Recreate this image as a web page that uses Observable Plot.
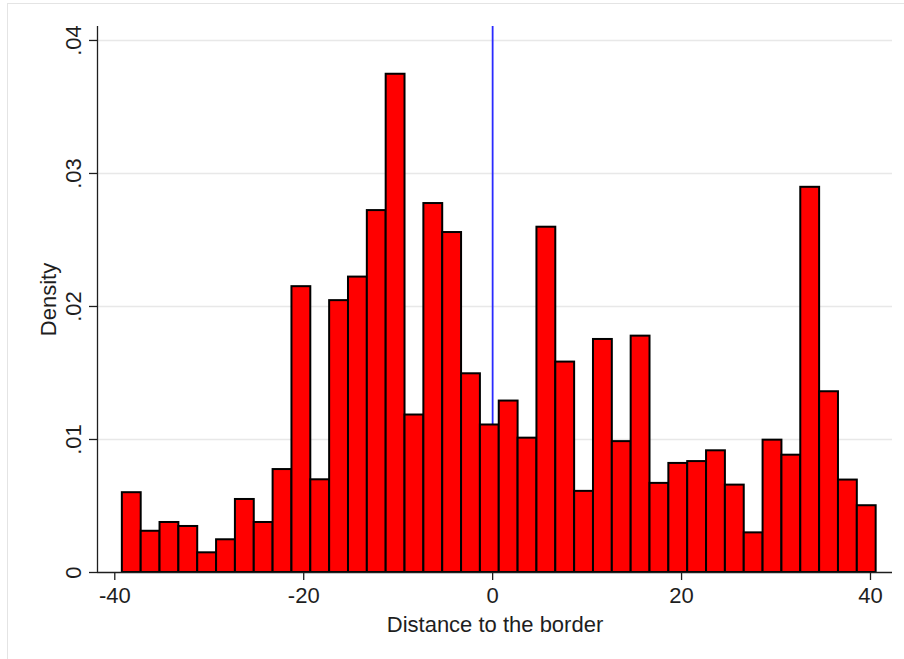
<!DOCTYPE html>
<html>
<head>
<meta charset="utf-8">
<script src="https://cdn.jsdelivr.net/npm/d3@7"></script>
<script src="https://cdn.jsdelivr.net/npm/@observablehq/plot@0.6"></script>
<style>
  html, body { margin: 0; padding: 0; background: #fff; }
  #wrap { position: relative; width: 904px; height: 659px; overflow: hidden; }
  #frame { position: absolute; left: 7px; top: 3px; width: 940px; height: 700px; border: 1.5px solid #e4e4e4; pointer-events: none; }
</style>
</head>
<body>
<div id="wrap"><div id="chart"></div><div id="frame"></div></div>
<script>
// Histogram of distance to the border (40 bins)
const binStart = -39.2;
const binWidth = 1.995;
const density = [
  0.0060, 0.0031, 0.00376, 0.00346, 0.00148, 0.00246, 0.00549, 0.00376, 0.00774, 0.02149,
  0.00697, 0.02044, 0.02221, 0.02721, 0.03746, 0.01184, 0.02774, 0.02556, 0.01494, 0.01109,
  0.01289, 0.0101, 0.02596, 0.01582, 0.0061, 0.01752, 0.00984, 0.01777, 0.0067, 0.0082,
  0.00834, 0.00915, 0.00657, 0.00298, 0.00995, 0.00882, 0.02896, 0.01359, 0.00695, 0.00502
];
const xTicks = [-40, -20, 0, 20, 40];
const yTicks = [0, 0.01, 0.02, 0.03, 0.04];
const yTickLabels = ["0", ".01", ".02", ".03", ".04"];
const gridTicks = [0.01, 0.02, 0.03, 0.04];
const borderAt = 0;
const xTitle = "Distance to the border";
const yTitle = "Density";

const xDomain = [-41.83, 42.33];
const yDomain = [0, 0.04105];

const bins = density.map((v, i) => ({
  x1: binStart + i * binWidth,
  x2: binStart + (i + 1) * binWidth,
  y: v
}));

const font = "'Liberation Sans', Arial, Helvetica, sans-serif";
const ink = "#1e1e1e";
const fs = 22;

const chart = Plot.plot({
  width: 904,
  height: 659,
  marginLeft: 97,
  marginRight: 12,
  marginTop: 26,
  marginBottom: 87,
  style: { fontFamily: font, fontSize: fs + "px", background: "#fff", color: ink },
  x: { domain: xDomain },
  y: { domain: yDomain },
  marks: [
    Plot.gridY(gridTicks, { stroke: "#e8e8e8", strokeOpacity: 1, strokeWidth: 1.5 }),
    Plot.ruleX([borderAt], { y1: yDomain[0], y2: yDomain[1], stroke: "#2a2aff", strokeWidth: 1.8 }),
    Plot.rectY(bins, { x1: "x1", x2: "x2", y: "y", fill: "#ff0000", stroke: "#000", strokeWidth: 2 }),
    Plot.ruleX([xDomain[0]], { y1: yDomain[0], y2: yDomain[1], stroke: ink, strokeWidth: 1.3 }),
    Plot.ruleY([0], { stroke: ink, strokeWidth: 1.3 }),
    Plot.axisX({ ticks: xTicks, tickSize: 8, tickPadding: 7, tickFormat: d => String(d), stroke: ink, strokeWidth: 1.3, fontSize: fs, fill: ink, label: null }),
    Plot.axisY({ ticks: yTicks, tickSize: 8, tickFormat: () => "", stroke: ink, strokeWidth: 1.3, label: null }),
    Plot.text(yTicks, {
      y: d => d, text: (d, i) => yTickLabels[i], frameAnchor: "left", dx: -17,
      rotate: -90, textAnchor: "middle", lineAnchor: "bottom", fontSize: fs, fill: ink
    }),
    Plot.text([yTitle], {
      text: d => d, frameAnchor: "left", dx: -42, rotate: -90,
      textAnchor: "middle", lineAnchor: "bottom", fontSize: fs, fill: ink
    }),
    Plot.text([xTitle], {
      text: d => d, frameAnchor: "bottom", dy: 59,
      textAnchor: "middle", lineAnchor: "bottom", fontSize: fs, fill: ink
    })
  ]
});
document.getElementById("chart").appendChild(chart);
</script>
</body>
</html>
